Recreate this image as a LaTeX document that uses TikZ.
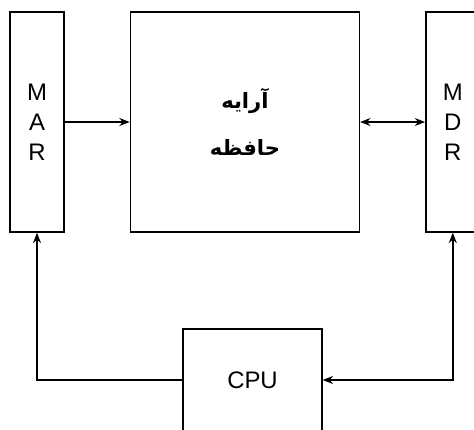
\documentclass[tikz,border=0pt]{standalone}
\usepackage{fontspec}
\setmainfont{Liberation Sans}
\newfontfamily\arabicfont[Script=Arabic]{DejaVu Sans}
\TeXXeTstate=1
\usetikzlibrary{positioning, arrows.meta}

\begin{document}
\begin{tikzpicture}[
    reg/.style={draw, rectangle, line width=1pt, minimum width=1.35cm, minimum height=5.5cm, align=center, font=\fontsize{17}{21.3}\selectfont},
    membox/.style={draw, rectangle, line width=1pt, minimum width=5.725cm, minimum height=5.5cm, align=center, font=\arabicfont\bfseries\fontsize{15}{33}\selectfont},
    cpubox/.style={draw, rectangle, line width=1pt, minimum width=3.475cm, minimum height=2.55cm, font=\fontsize{17}{20}\selectfont},
    arr/.style={-{Stealth[length=2.6mm, width=2mm]}, line width=1pt},
    darr/.style={{Stealth[length=2.6mm, width=2mm]}-{Stealth[length=2.6mm, width=2mm]}, line width=1pt}
]
    \useasboundingbox (0,0) rectangle (11.85,-10.725);

    \node[reg] (mar) at (0.925,-3.05) {M\\A\\R};
    \node[membox] (mem) [right=1.625cm of mar] {\beginR آرایه\endR\\\beginR حافظه\endR};
    \node[reg] (mdr) [right=1.625cm of mem] {M\\D\\R};
    \node[cpubox] (cpu) at (6.3125,-9.5) {CPU};

    \draw[arr] (mar) -- (mem);
    \draw[darr] (mem) -- (mdr);
    \draw[arr] (cpu.west) -| (mar.south);
    \draw[darr] (mdr.south) |- (cpu.east);
\end{tikzpicture}
\end{document}
